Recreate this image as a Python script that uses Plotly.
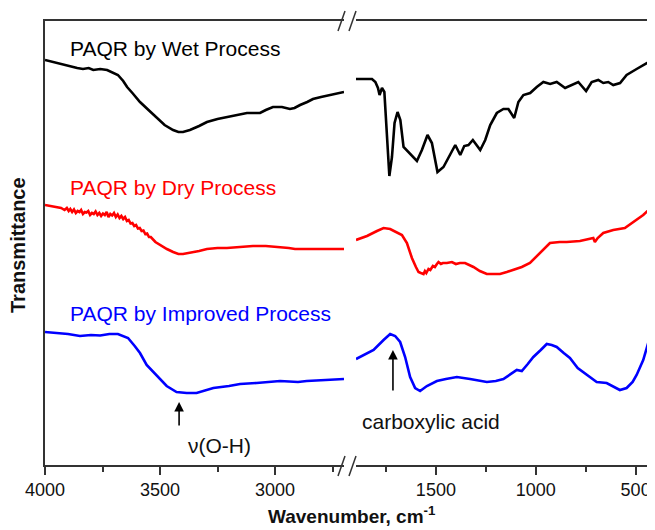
import plotly.graph_objects as go

# ---------------- data (transmittance, arbitrary units, offset traces) ----------------
wet_left_wn = [4000, 3950, 3900, 3878, 3860, 3835, 3810, 3790, 3760, 3730, 3710, 3683, 3660, 3643,
               3620, 3587, 3550, 3513, 3480, 3443, 3420, 3400, 3370, 3330, 3296, 3250, 3209, 3160,
               3122, 3090, 3065, 3040, 3009, 2970, 2935, 2915, 2891, 2860, 2835, 2800, 2761, 2730, 2700]
wet_left_t = [404, 401, 398, 397, 396, 395, 396, 394, 395, 394, 392, 389, 383, 377,
              371, 362, 354, 346, 339, 334, 332, 332, 334, 338, 342, 345, 347, 349,
              351, 351, 351, 354, 357, 357, 355, 356, 359, 362, 365, 367, 369, 371, 372]

wet_right_wn = [1900, 1820, 1803, 1790, 1782, 1770, 1758, 1745, 1733, 1720, 1707, 1692, 1678, 1662,
                1628, 1595, 1570, 1542, 1520, 1492, 1462, 1437, 1403, 1378, 1358, 1337, 1315, 1278,
                1253, 1228, 1195, 1162, 1137, 1108, 1087, 1062, 1028, 995, 962, 928, 895, 853, 820,
                787, 748, 720, 687, 662, 637, 612, 578, 545, 495, 445, 408]
wet_right_t = [385, 385, 382, 376, 369, 376, 372, 327, 288, 307, 341, 352, 344, 317,
               310, 303, 314, 329, 321, 292, 297, 307, 319, 309, 318, 319, 324, 314,
               324, 339, 351, 355, 355, 346, 362, 369, 371, 377, 382, 380, 382, 376, 379,
               382, 373, 382, 384, 381, 382, 379, 381, 389, 395, 401, 405]

dry_left_wn = [4000, 3960, 3930, 3915, 3905, 3897, 3890, 3882, 3874, 3866, 3858, 3850, 3843, 3835,
               3827, 3820, 3812, 3804, 3796, 3788, 3780, 3772, 3764, 3756, 3748, 3740, 3732, 3724,
               3716, 3708, 3700, 3692, 3684, 3676, 3668, 3660, 3652, 3644, 3636, 3628, 3620, 3612,
               3604, 3596, 3588, 3580, 3572, 3564, 3556, 3548, 3540, 3520, 3500, 3470, 3443, 3420,
               3400, 3370, 3330, 3296, 3250, 3209, 3150, 3096, 3040, 2978, 2940, 2913, 2870, 2817,
               2760, 2700]
dry_left_t = [259, 257, 256, 254, 256, 253, 255, 252, 254.5, 251, 253, 252, 254, 250,
              252, 251.5, 253, 249, 251, 250, 252.5, 249, 251, 248, 250.5, 249, 252, 247,
              250, 248.5, 251, 247, 249.5, 246, 248, 245, 247, 243, 244, 240.5, 241, 238,
              239, 235.5, 236, 233, 233.5, 230, 230.5, 227, 227, 222, 219, 215, 212, 210,
              210, 211, 213, 215, 216, 216, 217, 218, 218, 217, 216, 215, 215, 215,
              215, 215]

dry_right_wn = [1900, 1845, 1795, 1762, 1729, 1710, 1695, 1680, 1670, 1645, 1620, 1600, 1587, 1575,
                1562, 1555, 1548, 1537, 1528, 1515, 1505, 1495, 1487, 1475, 1465, 1445, 1420, 1400,
                1380, 1354, 1312, 1280, 1245, 1210, 1179, 1145, 1112, 1070, 1029, 979, 929, 880,
                845, 779, 730, 712, 704, 690, 662, 612, 554, 512, 462, 408]
dry_right_t = [224, 228, 233, 236, 235, 233, 231, 230, 229, 221, 206, 197, 192, 191,
               190, 193, 191, 195, 194, 198, 197, 200, 202, 200, 201, 201, 202, 200,
               201, 201, 197, 193, 190, 190, 190, 192, 194, 197, 201, 211, 221, 222,
               222, 223, 225, 226, 222, 226, 231, 234, 236, 242, 249, 259]

imp_left_wn = [4000, 3950, 3900, 3848, 3800, 3760, 3720, 3683, 3660, 3639, 3610, 3587, 3558, 3515,
               3471, 3428, 3384, 3341, 3300, 3268, 3200, 3152, 3080, 2978, 2900, 2862, 2780, 2700]
imp_left_t = [132, 131, 130, 128, 129, 128.5, 130, 130, 128, 126, 118, 111, 99, 89,
              78, 72, 71, 71, 74, 76, 78, 80, 81, 83, 82, 83, 84, 85]

imp_right_wn = [1900, 1860, 1812, 1762, 1729, 1704, 1679, 1654, 1629, 1604, 1579, 1545, 1495, 1450,
                1395, 1329, 1280, 1245, 1200, 1162, 1095, 1070, 1040, 1012, 975, 945, 920, 895,
                860, 829, 790, 745, 695, 645, 610, 579, 545, 515, 495, 470, 462, 437, 408]
imp_right_t = [105, 109, 114, 124, 130, 128, 122, 107, 87, 76, 73, 78, 83, 85,
               87, 85, 83, 82, 83, 85, 94, 93, 100, 107, 114, 120, 119, 117,
               111, 106, 96, 89, 82, 81, 77, 74, 76, 82, 89, 100, 104, 121, 132]

series_names = ["PAQR by Wet Process", "PAQR by Dry Process", "PAQR by Improved Process"]
series_colors = ["#000000", "#ff0000", "#0000ff"]
left_ticks = [4000, 3500, 3000]
left_minor = [3750, 3250, 2750]
right_ticks = [1500, 1000, 500]
right_minor = [1750, 1250, 750]

# ---------------- layout geometry ----------------
# the page body has an 8px default margin, so the figure is sized to fit the 655x530 window
OFF = 8
W, H = 655 - OFF, 530 - OFF
ML, MR, MT, MB = 45 - OFF, 1, 21 - OFF, 65
PW, PH = W - ML - MR, H - MT - MB


def px(xs):
    """screen x pixel -> paper fraction"""
    return (xs - OFF - ML) / PW


def py(ys):
    """screen y pixel -> paper fraction"""
    return (H - MB - (ys - OFF)) / PH


fig = go.Figure()
data = [
    (wet_left_wn, wet_left_t, wet_right_wn, wet_right_t),
    (dry_left_wn, dry_left_t, dry_right_wn, dry_right_t),
    (imp_left_wn, imp_left_t, imp_right_wn, imp_right_t),
]
for (lw, lt, rw, rt), name, col in zip(data, series_names, series_colors):
    fig.add_trace(go.Scatter(x=lw, y=lt, mode="lines", name=name, showlegend=False,
                             line=dict(color=col, width=2.6), xaxis="x", yaxis="y"))
    fig.add_trace(go.Scatter(x=rw, y=rt, mode="lines", name=name, showlegend=False,
                             line=dict(color=col, width=2.6), xaxis="x2", yaxis="y"))

axis_col = "#333333"
common_x = dict(showline=True, linecolor=axis_col, linewidth=1.5, mirror=True, showgrid=False,
                zeroline=False, ticks="outside", ticklen=8, tickwidth=1.5, tickcolor=axis_col,
                tickfont=dict(family="Liberation Sans, Arial", size=18, color="#111111"),
                tickmode="array", automargin=False)
fig.update_layout(
    width=W, height=H,
    margin=dict(l=ML, r=MR, t=MT, b=MB, autoexpand=False),
    plot_bgcolor="white", paper_bgcolor="white",
    showlegend=False,
    xaxis=dict(domain=[0, px(344)], range=[4000, 2700], tickvals=left_ticks, anchor="y",
               minor=dict(tickvals=left_minor, ticks="outside", ticklen=5, tickwidth=1.5,
                          tickcolor=axis_col), **common_x),
    xaxis2=dict(domain=[px(356), 1], range=[1900, 408], tickvals=right_ticks, anchor="y",
                minor=dict(tickvals=right_minor, ticks="outside", ticklen=5, tickwidth=1.5,
                           tickcolor=axis_col), **common_x),
    yaxis=dict(range=[-1, 443], showline=True, linecolor=axis_col, linewidth=1.5,
               showticklabels=False, ticks="", showgrid=False, zeroline=False, anchor="x",
               automargin=False),
    yaxis2=dict(range=[-1, 443], showline=True, linecolor=axis_col, linewidth=1.5,
                showticklabels=False, ticks="", showgrid=False, zeroline=False,
                overlaying="y", anchor="x2", side="right", automargin=False),
)

lab_font = "Liberation Sans, Arial"
# series labels
fig.add_annotation(x=3900, y=416, xref="x", yref="y", text="PAQR by Wet Process", showarrow=False,
                   xanchor="left", yanchor="middle", font=dict(family=lab_font, size=21, color="#000000"))
fig.add_annotation(x=3900, y=277, xref="x", yref="y", text="PAQR by Dry Process", showarrow=False,
                   xanchor="left", yanchor="middle", font=dict(family=lab_font, size=21, color="#ff0000"))
fig.add_annotation(x=3900, y=151, xref="x", yref="y", text="PAQR by Improved Process", showarrow=False,
                   xanchor="left", yanchor="middle", font=dict(family=lab_font, size=21, color="#0000ff"))

# peak labels with arrows
fig.add_annotation(x=3417, y=62, xref="x", yref="y", ax=3417, ay=37, axref="x", ayref="y",
                   text="", showarrow=True, arrowhead=2, arrowsize=1.2, arrowwidth=1.6,
                   arrowcolor="#000000")
fig.add_annotation(x=3240, y=19, xref="x", yref="y", text="\u03bd(O-H)", showarrow=False,
                   xanchor="center", yanchor="middle", font=dict(family=lab_font, size=21, color="#111111"))
fig.add_annotation(x=1715, y=114, xref="x2", yref="y", ax=1715, ay=72, axref="x2", ayref="y",
                   text="", showarrow=True, arrowhead=2, arrowsize=1.2, arrowwidth=1.6,
                   arrowcolor="#000000")
fig.add_annotation(x=px(360), y=py(421), xref="paper", yref="paper", text="carboxylic acid",
                   showarrow=False, xanchor="left", yanchor="middle",
                   font=dict(family=lab_font, size=21, color="#111111"))

# axis titles
fig.add_annotation(x=px(352), y=py(515), xref="paper", yref="paper",
                   text="<b>Wavenumber, cm<sup>-1</sup></b>", showarrow=False,
                   xanchor="center", yanchor="middle",
                   font=dict(family=lab_font, size=19, color="#111111"))
fig.add_annotation(x=px(18), y=py(245), xref="paper", yref="paper", text="<b>Transmittance</b>",
                   textangle=-90, showarrow=False, xanchor="center", yanchor="middle",
                   font=dict(family=lab_font, size=20, color="#111111"))

# axis break marks
for (yb, yt) in [(476, 456), (31, 11)]:
    for x0 in (338, 349):
        fig.add_shape(type="line", xref="paper", yref="paper",
                      x0=px(x0), y0=py(yb), x1=px(x0 + 7), y1=py(yt),
                      line=dict(color=axis_col, width=1.5))

fig.write_html("out.html")
